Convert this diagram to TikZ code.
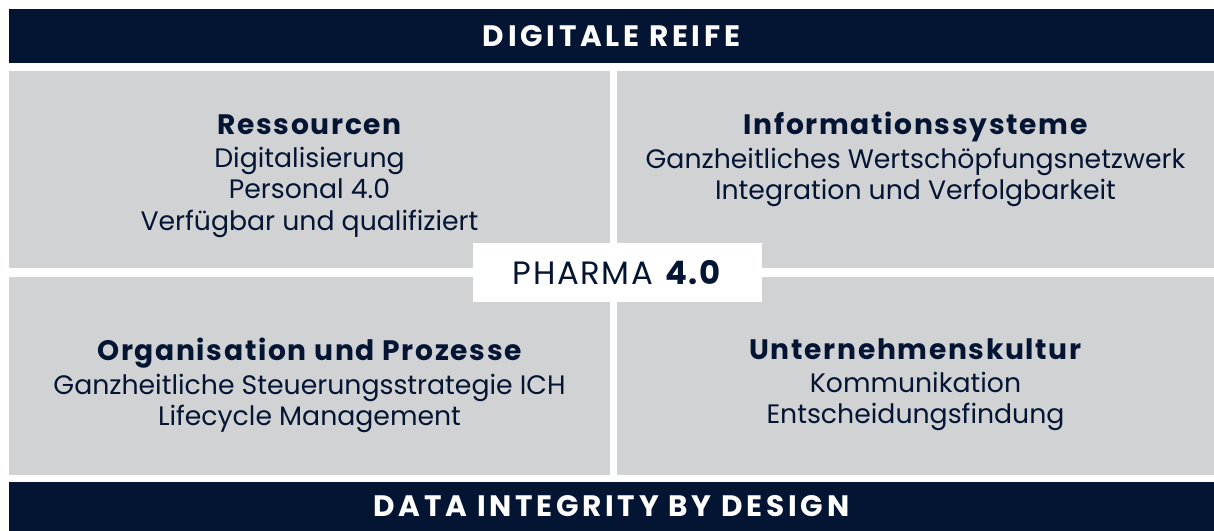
\documentclass[tikz,border=0pt]{standalone}
\usepackage{fontspec}
\setmainfont{Poppins}
\usetikzlibrary{positioning}

\definecolor{navy}{HTML}{041533}
\definecolor{panelgray}{HTML}{D1D2D4}

\newcommand{\paneltitle}[1]{{\fontsize{20}{22.3}\selectfont\bfseries\addfontfeature{LetterSpace=6}#1}}

\begin{document}
\begin{tikzpicture}[x=0.025cm,y=-0.025cm,
    bar/.style={rectangle,fill=navy,inner sep=0pt,minimum width=1205*0.025cm,text=white,
                font=\fontsize{21}{24}\selectfont\bfseries\addfontfeature{LetterSpace=12.5}},
    quad/.style={rectangle,fill=panelgray,inner sep=0pt},
    label/.style={align=center,inner sep=0pt,text=navy,font=\fontsize{19}{22.3}\selectfont}
]
\useasboundingbox (0,0) rectangle (1214,531);

% === Top bar ===
\node[bar,minimum height=54*0.025cm] (reife) at (611.5,36) {DIGITALE REIFE};

% === Four panels ===
\node[quad,minimum width=601*0.025cm,minimum height=197*0.025cm] (res) at (309.5,169.5) {};
\node[quad,minimum width=597*0.025cm,minimum height=197*0.025cm] (info) at (915.5,169.5) {};
\node[quad,minimum width=601*0.025cm,minimum height=198*0.025cm] (org) at (309.5,376) {};
\node[quad,minimum width=597*0.025cm,minimum height=198*0.025cm] (kultur) at (915.5,376) {};

% Panel texts
\node[label,anchor=north] (restext) at (309.5,114) {\paneltitle{Ressourcen}\\[1.5pt]Digitalisierung\\Personal 4.0\\Verfügbar und qualifiziert};
\node[label,anchor=north] (infotext) at (915.5,112) {\paneltitle{Informationssysteme}\\[1.5pt]Ganzheitliches Wertschöpfungsnetzwerk\\Integration und Verfolgbarkeit};
\node[label,anchor=north] (orgtext) at (309.5,338) {\paneltitle{Organisation und Prozesse}\\[1.5pt]Ganzheitliche Steuerungsstrategie ICH\\Lifecycle Management};
\node[label,anchor=north] (kulturtext) at (915.5,338) {\paneltitle{Unternehmenskultur}\\[1.5pt]Kommunikation\\Entscheidungsfindung};

% === Centre label ===
\node[rectangle,fill=white,inner sep=0pt,minimum width=289*0.025cm,minimum height=59*0.025cm,
      text=navy,font=\fontsize{23}{26}\selectfont\addfontfeature{LetterSpace=5}] (pharma) at (617.5,272.5) {PHARMA \textbf{4.0}};

% === Bottom bar ===
\node[bar,minimum height=49*0.025cm] (integrity) at (611.5,506.5) {DATA INTEGRITY BY DESIGN};

\end{tikzpicture}
\end{document}
